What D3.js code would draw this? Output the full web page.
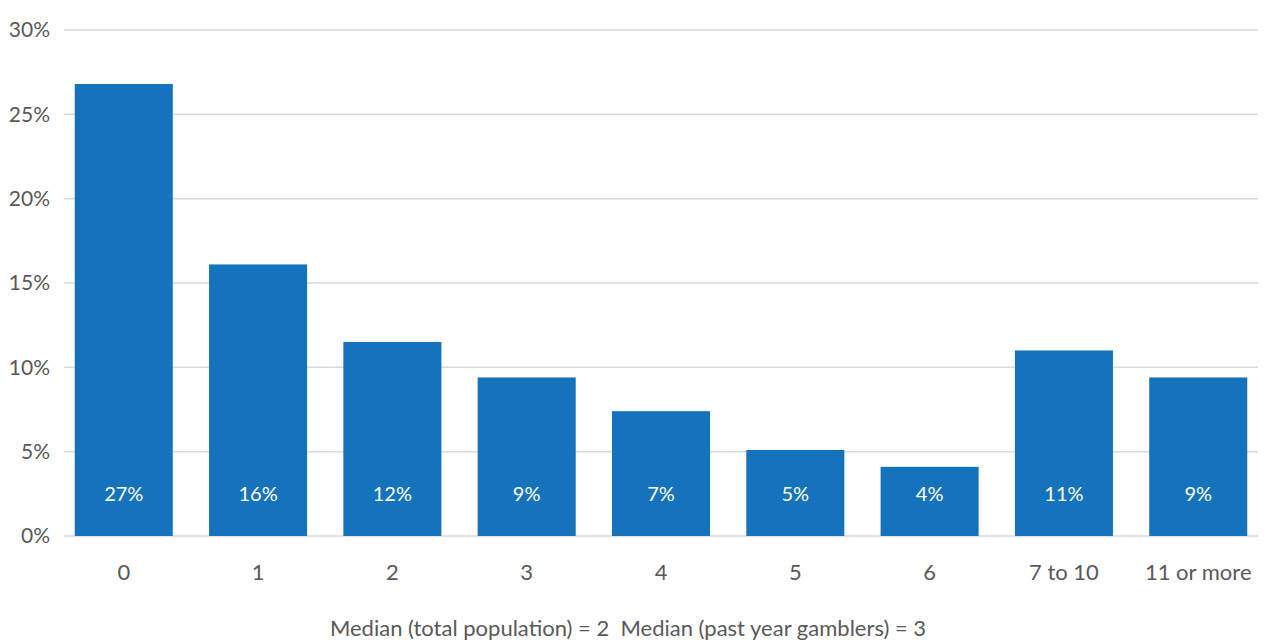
<!DOCTYPE html>
<html>
<head>
<meta charset="utf-8">
<script src="https://cdn.jsdelivr.net/npm/d3@7"></script>
<style>
  html, body { margin: 0; padding: 0; background: #ffffff; }
  svg { display: block; font-family: Lato, "Open Sans", sans-serif; }
</style>
</head>
<body>
<svg id="chart" width="1276" height="641"></svg>
<script>
// Number of gambling activities: share of respondents
const categories = ["0", "1", "2", "3", "4", "5", "6", "7 to 10", "11 or more"];
const shares = [26.8, 16.1, 11.5, 9.4, 7.4, 5.1, 4.1, 11.0, 9.4];
const yTicks = [0, 5, 10, 15, 20, 25, 30];
const footnote = "Median (total population) = 2  Median (past year gamblers) = 3";

const svg = d3.select("#chart");
const plot = { left: 64, right: 1258, top: 30, bottom: 536 };

const x = d3.scaleBand()
  .domain(categories)
  .range([plot.left, plot.right])
  .paddingInner(0.27)
  .paddingOuter(0.08);

const y = d3.scaleLinear().domain([0, 30]).range([plot.bottom, plot.top]);

// Horizontal gridlines
svg.append("g")
  .selectAll("line")
  .data(yTicks)
  .join("line")
  .attr("x1", plot.left).attr("x2", plot.right)
  .attr("y1", d => y(d)).attr("y2", d => y(d))
  .attr("stroke", "#d9d9d9")
  .attr("stroke-width", 1.5);

// Y axis tick labels
const yAxis = d3.axisLeft(y).tickValues(yTicks).tickFormat(d => d + "%").tickSize(0).tickPadding(14);
const gy = svg.append("g").attr("transform", `translate(${plot.left},0)`).call(yAxis);
gy.select(".domain").remove();
gy.selectAll("text").attr("fill", "#595959").style("font-size", "21px").style("font-family", "Lato, sans-serif");

// Bars
svg.append("g")
  .selectAll("rect")
  .data(shares)
  .join("rect")
  .attr("x", (d, i) => x(categories[i]))
  .attr("width", x.bandwidth())
  .attr("y", d => y(d))
  .attr("height", d => y(0) - y(d))
  .attr("fill", "#1473ba");

// Value labels inside bars
svg.append("g")
  .selectAll("text")
  .data(shares)
  .join("text")
  .attr("x", (d, i) => x(categories[i]) + x.bandwidth() / 2)
  .attr("y", 493)
  .attr("text-anchor", "middle")
  .attr("dominant-baseline", "central")
  .attr("fill", "#ffffff")
  .style("font-size", "20px")
  .text(d => Math.round(d) + "%");

// X axis category labels
const xAxis = d3.axisBottom(x).tickSize(0).tickPadding(28);
const gx = svg.append("g").attr("transform", `translate(0,${plot.bottom})`).call(xAxis);
gx.select(".domain").remove();
gx.selectAll("text").attr("fill", "#595959").style("font-size", "22px").style("font-family", "Lato, sans-serif");

// Footnote
svg.append("text")
  .attr("x", 628)
  .attr("y", 627)
  .attr("text-anchor", "middle")
  .attr("dominant-baseline", "central")
  .attr("fill", "#595959")
  .style("font-size", "22px")
  .style("white-space", "pre")
  .text(footnote);
</script>
</body>
</html>
